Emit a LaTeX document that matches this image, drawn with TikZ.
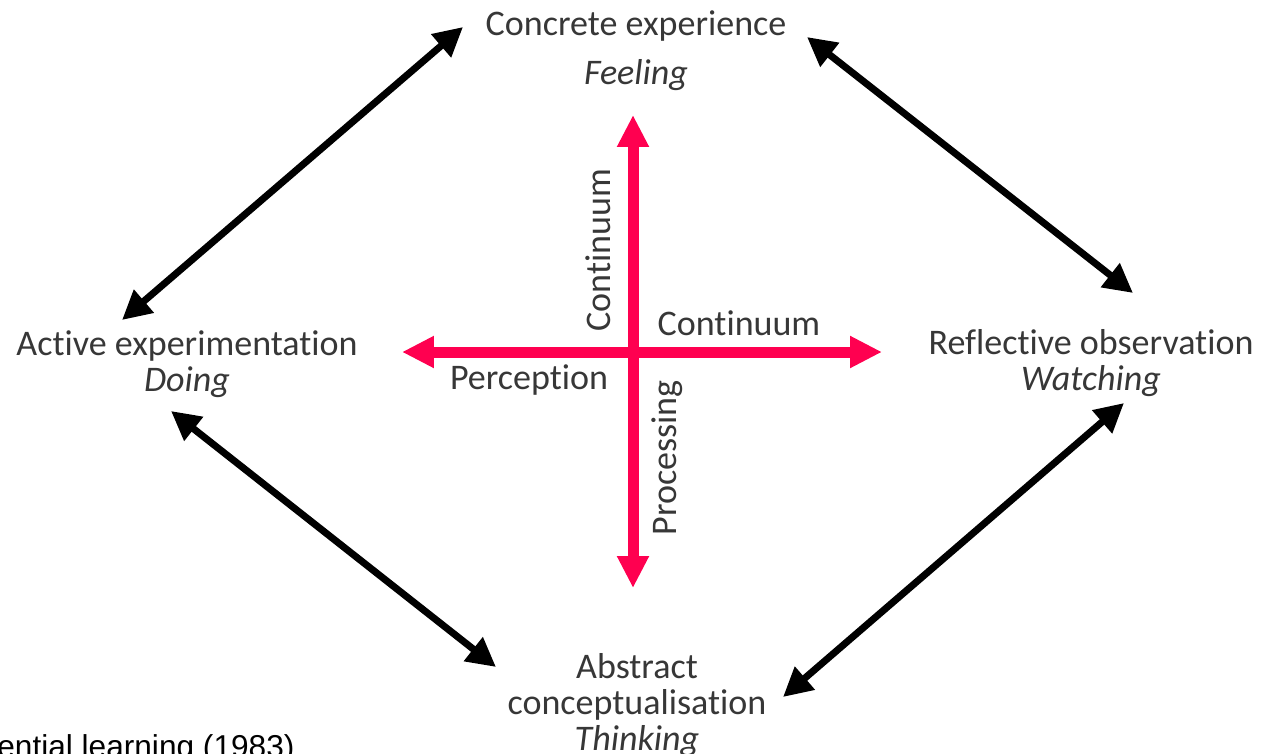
\documentclass[tikz,border=0pt]{standalone}
\usepackage{fontspec}
\setmainfont{Carlito}[Ligatures=NoCommon]
\newfontfamily\arialfont{Liberation Sans}
\usetikzlibrary{arrows.meta}
\definecolor{kolbpink}{RGB}{255,0,80}
\definecolor{kolbtext}{RGB}{55,55,55}

\begin{document}
\begin{tikzpicture}[x=0.02cm,y=-0.02cm,>=Latex,
  stage/.style={align=center,inner sep=0pt,text=kolbtext,font=\fontsize{20.5}{20.5}\selectfont},
  axislabel/.style={inner sep=0pt,text=kolbtext,font=\fontsize{20.5}{20.5}\selectfont},
  cycle/.style={<->,line width=0.14cm,>={Triangle[length=0.58cm,width=0.58cm]}},
  axis/.style={<->,line width=0.22cm,draw=kolbpink,>={Triangle[length=0.64cm,width=0.6cm]}}]
\useasboundingbox (0,0) rectangle (1275,754);
% the four stages
\node[stage,anchor=north] (ce) at (636,10) {Concrete experience\\[0.26cm]\textit{Feeling}};
\node[stage,anchor=north] (ae) at (187,330) {Active experimentation\\\textit{Doing}};
\node[stage,anchor=north] (ro) at (1091,329) {Reflective observation\\\textit{Watching}};
\node[stage,anchor=north] (ac) at (637,653) {Abstract\\conceptualisation\\\textit{Thinking}};
% arrow ends
\coordinate (ce-w) at (463,27);
\coordinate (ce-e) at (807,37);
\coordinate (ae-n) at (122,320);
\coordinate (ae-s) at (171,411);
\coordinate (ro-n) at (1133,293);
\coordinate (ro-s) at (1124,403);
\coordinate (ac-w) at (496,667);
\coordinate (ac-e) at (783,697);
\draw[cycle] (ae-n) -- (ce-w);
\draw[cycle] (ce-e) -- (ro-n);
\draw[cycle] (ae-s) -- (ac-w);
\draw[cycle] (ro-s) -- (ac-e);
% the two continua
\coordinate (top) at (633,115);
\coordinate (bot) at (633,588);
\coordinate (lft) at (402,352);
\coordinate (rgt) at (882,352);
\draw[axis] (lft) -- (rgt);
\draw[axis] (top) -- (bot);
\node[axislabel,rotate=90] (contv) at (598,250) {Continuum};
\node[axislabel,rotate=90] (proc) at (667,458) {Processing};
\node[axislabel] (conth) at (739,323) {Continuum};
\node[axislabel] (perc) at (529,380) {Perception};
% cropped source line
\node[anchor=base west,inner sep=0pt,font=\arialfont\fontsize{18}{18}\selectfont] (src) at (-3,757) {ential learning (1983)};
\end{tikzpicture}
\end{document}
